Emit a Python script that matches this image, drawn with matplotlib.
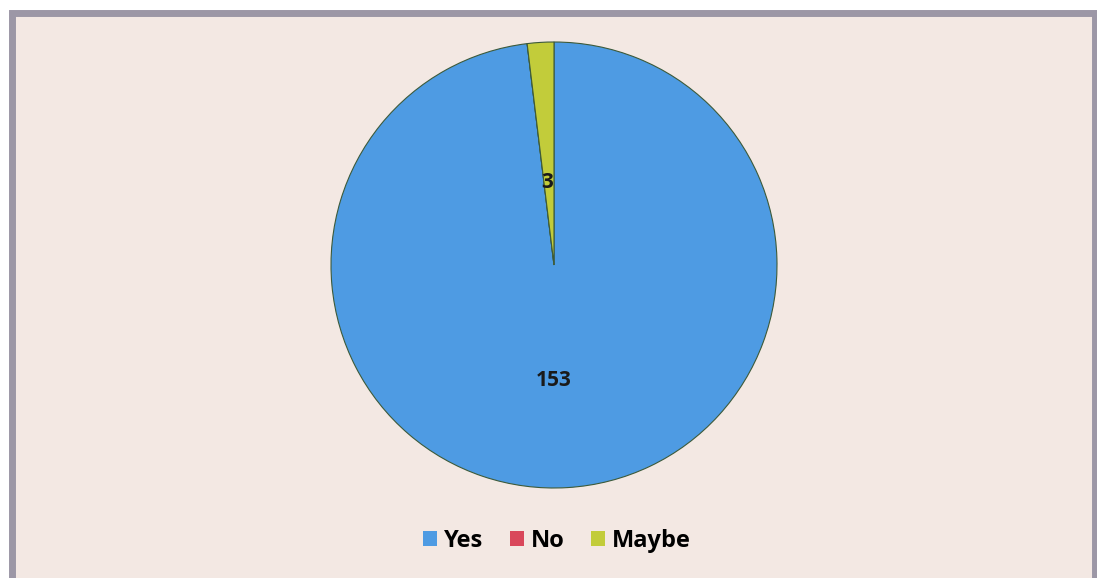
import matplotlib
matplotlib.use("Agg")
import matplotlib.pyplot as plt
from matplotlib.patches import Rectangle, Patch

categories = ["Yes", "No", "Maybe"]
values = [153, 0, 3]
colors = ["#4E9BE3", "#D9475B", "#C2CC3A"]

W, H = 1097, 578
fig = plt.figure(figsize=(W / 100, H / 100), dpi=100)
fig.patch.set_facecolor("white")

# chart area background + grey frame (bottom edge falls off the picture)
fig.patches.append(Rectangle((11.5 / W, -0.05), (1095 - 11.5) / W, (H - 13.5) / H + 0.05,
                             transform=fig.transFigure, facecolor="#F3E8E3",
                             edgecolor="#9C97A6", linewidth=5, zorder=-10))

# pie: centre (554, 265), radius ~223 px
r = 223
ax = fig.add_axes([(554 - r) / W, (H - 265 - r) / H, 2 * r / W, 2 * r / H])
ax.set_zorder(5)
ax.set_facecolor("none")
wedges, _ = ax.pie(values, colors=colors, startangle=90, counterclock=False,
                   wedgeprops=dict(edgecolor="#3C5A3A", linewidth=0.8))
ax.set_xlim(-1, 1)
ax.set_ylim(-1, 1)
ax.set_aspect("auto")

# data labels (Excel-like placement)
ax.text(0.0, -0.52, "153", ha="center", va="center", fontsize=15,
        fontweight="bold", color="#1A1A1A", family="Open Sans")
ax.text(-0.03, 0.37, "3", ha="center", va="center", fontsize=15,
        fontweight="bold", color="#1A1A1A", family="Open Sans")

handles = [Patch(facecolor=c, edgecolor="none") for c in colors]
fig.legend(handles, categories, loc="center", bbox_to_anchor=(557 / W, 1 - 541 / H),
           ncol=3, frameon=False, handlelength=0.6, handleheight=0.6,
           handletextpad=0.3, columnspacing=1.1,
           prop=dict(size=17, weight="bold", family="Open Sans"))

fig.savefig("out.png", dpi=100)
